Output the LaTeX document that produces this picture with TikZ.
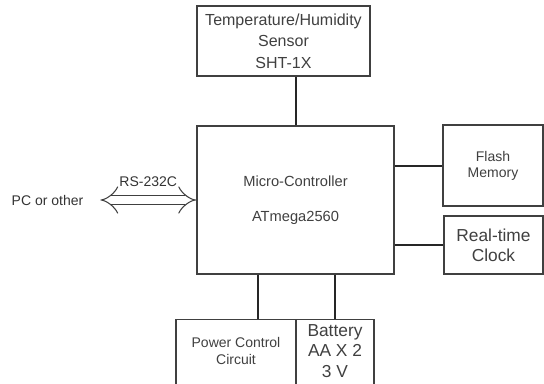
\documentclass[tikz,border=0pt]{standalone}
\usepackage{fontspec}
\setmainfont{Liberation Sans}
\usepackage{tikz}
\usetikzlibrary{arrows.meta, positioning}

\begin{document}
\begin{tikzpicture}[
      x=0.75pt, y=-0.75pt,
      block/.style={rectangle, draw=black!75, line width=1.1pt, fill=white, text=black!75, align=center, inner sep=0pt},
      wire/.style={draw=black!85, line width=1.5pt},
      bus/.style={double=white, draw=black!75, line width=0.8pt, double distance=6.6pt, {Implies[scale=1.35]}-{Implies[scale=1.35]}},
      lbl/.style={text=black!80, font=\fontsize{10.5}{12}\selectfont}
  ]
      \clip (0,0) rectangle (544,383);
      \useasboundingbox (0,0) rectangle (544,383);

      % Blocks
      \node[block, minimum width=130pt, minimum height=52.5pt, font=\fontsize{12}{16}\selectfont] (sensor) at (283.5, 41) {Temperature/Humidity\\Sensor\\SHT-1X};
      \node[block, minimum width=148pt, minimum height=111pt, font=\fontsize{11}{26}\selectfont] (mcu) at (295.5, 200) {Micro-Controller\\ATmega2560};
      \node[block, minimum width=75pt, minimum height=61pt, font=\fontsize{10.5}{12}\selectfont] (flash) at (493, 165.5) {Flash\\Memory};
      \node[block, minimum width=74pt, minimum height=43.5pt, font=\fontsize{13}{15}\selectfont] (rtc) at (493.5, 245) {Real-time\\Clock};
      \node[block, minimum width=90pt, minimum height=57pt, font=\fontsize{10.5}{12.8}\selectfont] (power) at (236, 357.5) {Power Control\\Circuit\\[-2.3pt]};
      \node[block, minimum width=58.5pt, minimum height=57pt, font=\fontsize{13}{15.5}\selectfont] (batt) at (335, 357.5) {Battery\\AA X 2\\3 V\\[-5.3pt]};
      \node[lbl, inner xsep=12.6pt] (pc) at (47.5, 200) {PC or other};

      % Links
      \draw[wire] (mcu.north) -- (mcu.north |- sensor.south);
      \draw[wire] (mcu.east |- flash.west) -- (flash.west);
      \draw[wire] (mcu.east |- rtc.west) -- (rtc.west);
      \draw[wire] ([xshift=16.5pt]power.north |- mcu.south) -- ([xshift=16.5pt]power.north);
      \draw[wire] (batt.north |- mcu.south) -- (batt.north);
      \draw[bus] (pc.east) -- node[lbl, above=6pt] {RS-232C} (mcu.west);
  \end{tikzpicture}
\end{document}
